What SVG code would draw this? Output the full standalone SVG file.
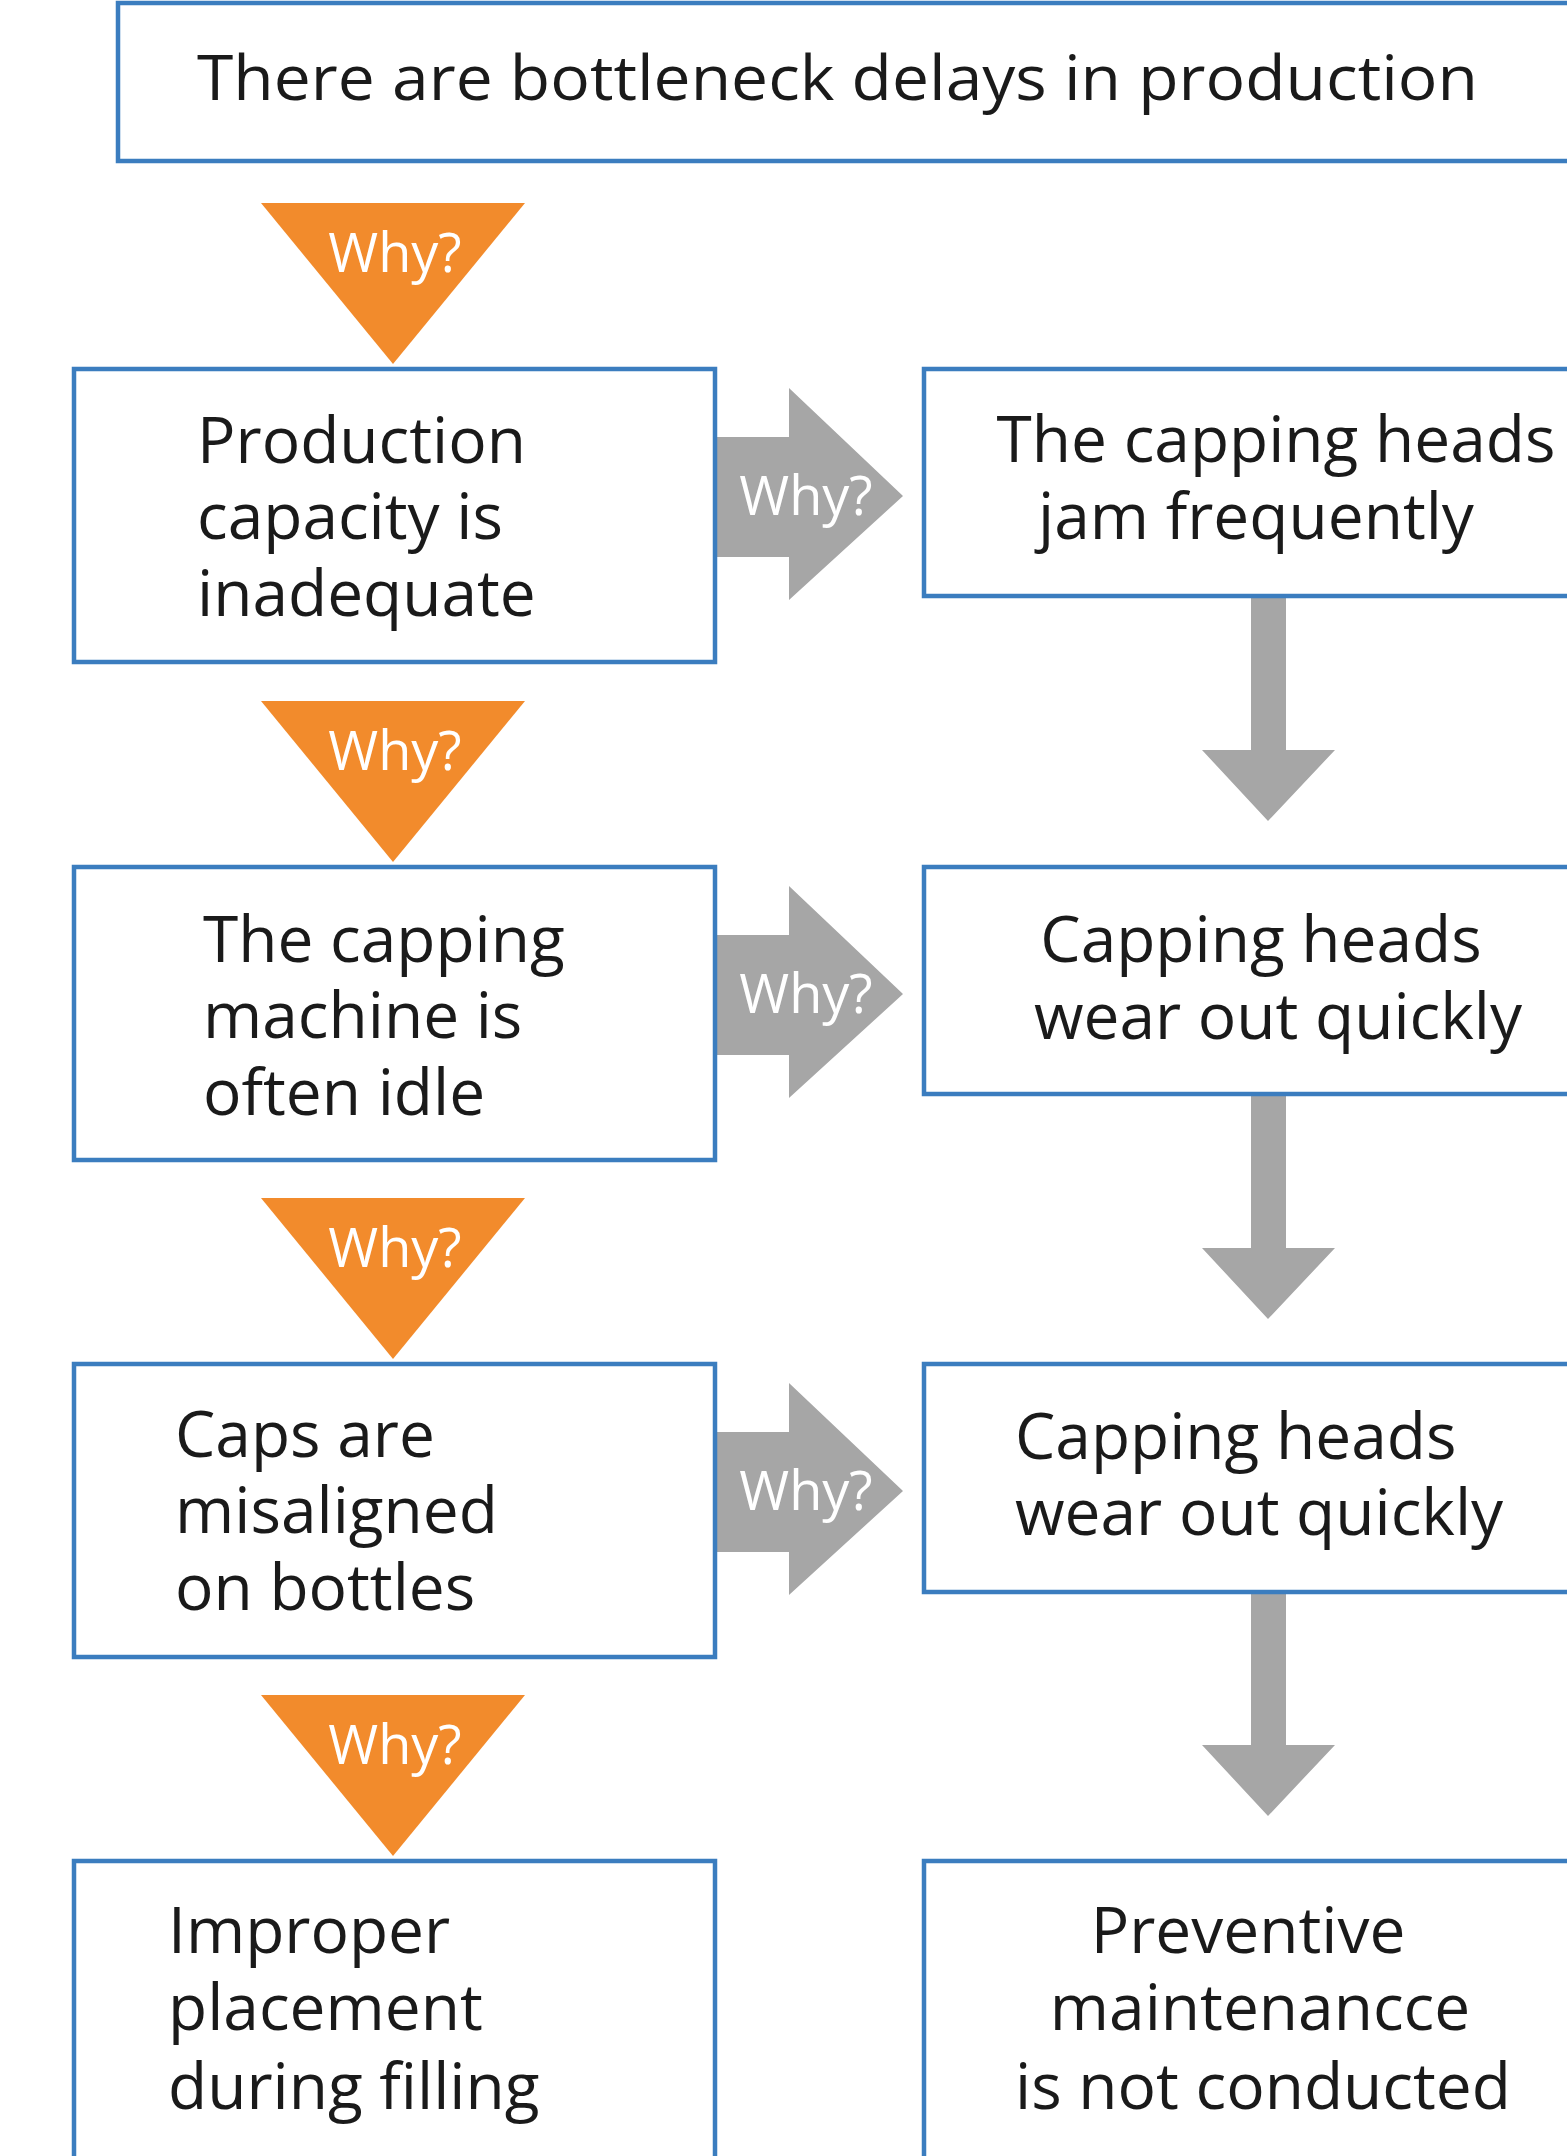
<svg xmlns="http://www.w3.org/2000/svg" width="1567" height="2156" viewBox="0 0 1567 2156">
  <style>
    .box { fill: #ffffff; stroke: #3b7dbf; stroke-width: 4.5; }
    .t { font-family: "Open Sans", "Noto Sans", "Liberation Sans", sans-serif; font-size: 64px; fill: #1a1a1a; }
    .title { font-size: 63px; font-weight: 500; }
    .mid { text-anchor: middle; }
    .why { font-family: "Open Sans", "Noto Sans", "Liberation Sans", sans-serif; font-size: 54px; fill: #ffffff; text-anchor: middle; }
    .tri { fill: #f28b2c; }
    .arr { fill: #a6a6a6; }
  </style>
  <defs>
    <!-- orange "why" wedge above each left box -->
    <g id="wedge">
      <path class="tri" d="M261,203 H525 L393,364 Z"/>
      <text class="why" x="395" y="272">Why?</text>
    </g>
    <!-- grey block arrow from a left box to the right column -->
    <g id="side-arrow">
      <path class="arr" d="M717,437 H789 V388 L903,496 L789,600 V557 H717 Z"/>
      <text class="why" x="806" y="515">Why?</text>
    </g>
    <!-- grey block arrow down the right column -->
    <path id="down-arrow" class="arr" d="M1251,597 H1286 V750 H1335 L1268,821 L1202,750 H1251 Z"/>
  </defs>

  <rect width="1567" height="2156" fill="#ffffff"/>

  <!-- problem statement -->
  <g id="problem">
    <rect class="box" x="118" y="3" width="1500" height="158"/>
    <text class="t title" x="197" y="100" textLength="1281" lengthAdjust="spacingAndGlyphs">There are bottleneck delays in production</text>
  </g>

  <!-- connectors -->
  <g id="connectors">
    <use href="#wedge"/>
    <use href="#wedge" transform="translate(0,498)"/>
    <use href="#wedge" transform="translate(0,995)"/>
    <use href="#wedge" transform="translate(0,1492)"/>
    <use href="#side-arrow"/>
    <use href="#side-arrow" transform="translate(0,498)"/>
    <use href="#side-arrow" transform="translate(0,995)"/>
    <use href="#down-arrow"/>
    <use href="#down-arrow" transform="translate(0,498)"/>
    <use href="#down-arrow" transform="translate(0,995)"/>
  </g>

  <!-- left column -->
  <g id="why1">
    <rect class="box" x="74" y="369" width="641" height="293"/>
    <text class="t" x="197" y="463">Production</text>
    <text class="t" x="197" y="539">capacity is</text>
    <text class="t" x="197" y="616">inadequate</text>
  </g>
  <g id="why2">
    <rect class="box" x="74" y="867" width="641" height="293"/>
    <text class="t" x="203" y="962">The capping</text>
    <text class="t" x="203" y="1038">machine is</text>
    <text class="t" x="203" y="1115">often idle</text>
  </g>
  <g id="why3">
    <rect class="box" x="74" y="1364" width="641" height="293"/>
    <text class="t" x="175" y="1457">Caps are</text>
    <text class="t" x="175" y="1533">misaligned</text>
    <text class="t" x="175" y="1610">on bottles</text>
  </g>
  <g id="why4">
    <rect class="box" x="74" y="1861" width="641" height="400"/>
    <text class="t" x="168" y="1953">Improper</text>
    <text class="t" x="168" y="2030">placement</text>
    <text class="t" x="168" y="2109">during filling</text>
  </g>

  <!-- right column -->
  <g id="cause1">
    <rect class="box" x="924" y="369" width="700" height="227"/>
    <text class="t mid" x="1276" y="462">The capping heads</text>
    <text class="t mid" x="1256" y="539">jam frequently</text>
  </g>
  <g id="cause2">
    <rect class="box" x="924" y="867" width="700" height="227"/>
    <text class="t mid" x="1261" y="962">Capping heads</text>
    <text class="t mid" x="1278" y="1039">wear out quickly</text>
  </g>
  <g id="cause3">
    <rect class="box" x="924" y="1364" width="700" height="228"/>
    <text class="t" x="1015" y="1459">Capping heads</text>
    <text class="t" x="1015" y="1535">wear out quickly</text>
  </g>
  <g id="cause4">
    <rect class="box" x="924" y="1861" width="700" height="400"/>
    <text class="t mid" x="1248" y="1953">Preventive</text>
    <text class="t mid" x="1260" y="2030">maintenancce</text>
    <text class="t mid" x="1263" y="2109">is not conducted</text>
  </g>
</svg>
